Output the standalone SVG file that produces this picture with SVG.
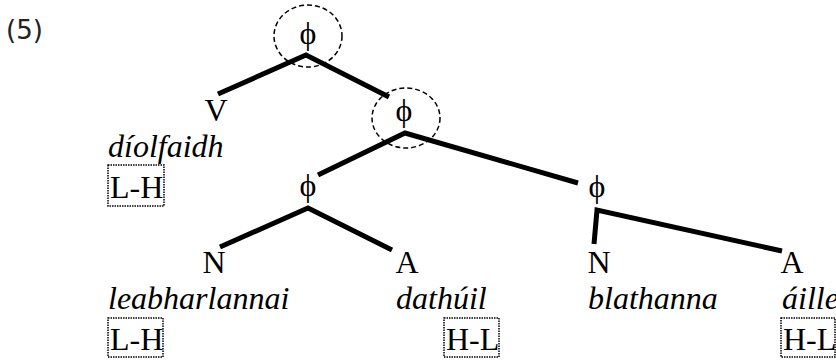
<svg xmlns="http://www.w3.org/2000/svg" width="836" height="361" viewBox="0 0 836 361">
<style>
.lbl{font-family:"Liberation Serif","Times New Roman",serif;font-size:32px;fill:#000}
.c{text-anchor:middle}
.it{font-family:"Liberation Serif","DejaVu Serif",serif;font-style:italic}
.phi{font-family:"Liberation Serif","Times New Roman",serif;font-size:32px;text-anchor:middle;fill:#000}
.edge{fill:none;stroke:#000;stroke-width:5;stroke-linejoin:miter;stroke-linecap:butt}
.ring{fill:none;stroke:#000;stroke-width:1.5;stroke-dasharray:5 3}
.tone{fill:none;stroke:#000;stroke-width:1.5;stroke-dasharray:1.5 1}
</style>
<rect width="836" height="361" fill="#fff"/>
<text x="6" y="39" font-family="DejaVu Sans, sans-serif" font-size="26" fill="#222">(5)</text>
<g id="connectors">
<polyline class="edge" points="218,94 306,55 389,97"/>
<polyline class="edge" points="318,175 405,133 578,183"/>
<polyline class="edge" points="220,247 308,208 392,250"/>
<polyline class="edge" points="594,244 597,210 782,251"/>
</g>
<g id="phi1">
<ellipse class="ring" cx="308" cy="36" rx="34" ry="31"/>
<text class="phi" x="308" y="44">ϕ</text>
</g>
<g id="phi2">
<ellipse class="ring" cx="406" cy="118" rx="34" ry="30"/>
<text class="phi" x="404" y="121">ϕ</text>
</g>
<g id="phi3">
<text class="phi" x="308" y="196">ϕ</text>
</g>
<g id="phi4">
<text class="phi" x="597" y="197">ϕ</text>
</g>
<g id="V">
<text class="lbl c" x="216" y="121">V</text>
<text class="lbl it" x="108" y="157">díolfaidh</text>
<rect class="tone" x="108" y="165" width="56" height="41"/>
<text class="lbl" x="110" y="198">L-H</text>
</g>
<g id="N1">
<text class="lbl c" x="214" y="273">N</text>
<text class="lbl it" x="108" y="309">leabharlannai</text>
<rect class="tone" x="108" y="318" width="55" height="39"/>
<text class="lbl" x="110" y="350">L-H</text>
</g>
<g id="A1">
<text class="lbl c" x="407" y="273">A</text>
<text class="lbl it" x="396" y="309">dathúil</text>
<rect class="tone" x="444" y="318" width="55" height="39"/>
<text class="lbl" x="446" y="350">H-L</text>
</g>
<g id="N2">
<text class="lbl c" x="599" y="273">N</text>
<text class="lbl it" x="588" y="309">blathanna</text>
</g>
<g id="A2">
<text class="lbl c" x="792" y="273">A</text>
<text class="lbl it" x="782" y="309">áille</text>
<rect class="tone" x="781" y="318" width="54" height="39"/>
<text class="lbl" x="783" y="350">H-L</text>
</g>
</svg>
